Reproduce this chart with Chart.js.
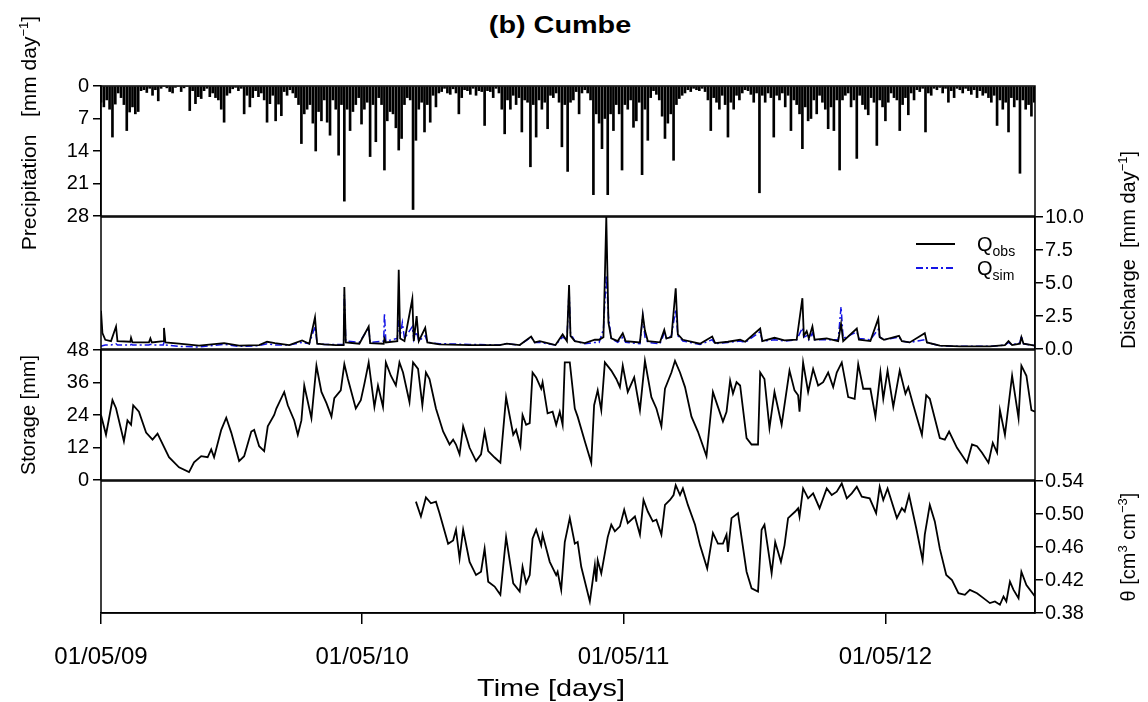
<!DOCTYPE html>
<html><head><meta charset="utf-8">
<script src="https://cdn.jsdelivr.net/npm/chart.js@4.4.0/dist/chart.umd.min.js"></script>
<style>
html,body{margin:0;padding:0;background:#fff;}
#wrap{position:relative;width:1148px;height:702px;overflow:hidden;font-family:"Liberation Sans",Arial,sans-serif;color:#000;}
canvas{position:absolute;left:0;}
.lbl{position:absolute;white-space:nowrap;font-size:20px;line-height:1;}
.ctr{transform:translate(-50%,-50%);}
.ctrs{transform:translate(-50%,-50%) scaleX(1.2);}
.rot{transform:translate(-50%,-50%) rotate(-90deg);}
.sp{font-size:13px;position:relative;top:-8px;}
.sb{font-size:14px;position:relative;top:5px;}
</style></head><body>
<div id="wrap">
<canvas id="c0"></canvas><canvas id="c1"></canvas><canvas id="c2"></canvas><canvas id="c3"></canvas>
<div class="lbl ctrs" style="left:560px;top:25px;font-weight:bold;font-size:24px;">(b) Cumbe</div>
<div class="lbl rot" style="left:28px;top:133px;font-size:21px;">Precipitation&nbsp;&nbsp; [mm day<span class="sp">−1</span>]</div>
<div class="lbl rot" style="left:28px;top:415px;">Storage [mm]</div>
<div class="lbl rot" style="left:1128px;top:250px;">Discharge&nbsp; [mm day<span class="sp">−1</span>]</div>
<div class="lbl rot" style="left:1128px;top:547px;">θ [cm<span class="sp">3</span> cm<span class="sp">−3</span>]</div>
<div class="lbl ctrs" style="left:551px;top:688px;font-size:24px;">Time [days]</div>
<div class="lbl" style="left:977px;top:234px;">Q<span class="sb">obs</span></div>
<div class="lbl" style="left:977px;top:258px;">Q<span class="sb">sim</span></div>
</div>
<script>
// ---------------- data (x = days since 01/05/09) ----------------
const xTickDays = [0, 365, 730, 1096];
const xTickLabels = ['01/05/09', '01/05/10', '01/05/11', '01/05/12'];
const xMaxDay = 1305;

const precipTicks = [0, 7, 14, 21, 28];
const dischargeTicks = [0, 2.5, 5, 7.5, 10];
const storageTicks = [0, 12, 24, 36, 48];
const thetaTicks = [0.38, 0.42, 0.46, 0.50, 0.54];

// precipitation, one value every 4 days
const precipStep = 4;
const precipValues = [
3.5,4.5,3,5,11,3.9,1.5,2.5,4,9.6,5.6,4.5,6,5.5,1,0.8,1.4,0.5,2,0.8,
3.2,0.5,0,0.4,1.2,1.5,0.3,0,1.2,0.4,0,5.3,1,3.8,2.3,2.7,1,0.5,2.3,1.5,
2.5,3,5,7.8,2,1.5,0.6,0.3,1,0.5,6,2,4.5,2.5,1,2.3,1.5,3,7.8,3.8,
2,7.5,3.9,6.4,1.2,2,0.8,1.5,2.5,4,12.4,6,5,4,8,14,5.5,7.5,3,7.8,
10.6,3,5,14.9,4,24.8,5,9.6,5.5,4,2.5,8.2,5,3.5,15.2,4,12,2.5,4,18.1,
7.5,5.5,6,9,13.8,11.3,4,2.5,3,26.6,11.7,5,3.5,9.9,4,7.8,2,4.5,1.5,1.2,
0.5,1.5,1.8,0.6,1.5,6,2.5,0.8,1,1.8,0.5,2,1,1.2,8.5,1,1.2,2.5,0.5,1.5,
5,10.3,3,5,2,4,2.5,9.9,3,3.5,17.4,4,11,3,5,3.5,9.2,2,2.5,1.5,
3.5,13.1,4,18.4,3.5,3,1.2,6,1.5,0.8,1.5,3,23.4,6,8,13.5,7,23.4,6,9.6,
4,6,18.1,4,5,3,8.9,7.5,3.5,19.1,5,11.7,2.5,1,1.8,3,6.5,11.3,8,6,
16,4,2.7,2,1.5,0.8,1.2,0.5,0.8,1,0.5,1.2,3,9.6,2.5,3.5,5,2,4,11,
3.5,5,2,3,1.5,0.8,1,1.8,3.5,1.5,23,2,3.5,1.5,2.5,11,2,3,1.5,4.5,
2,9.6,3,4,6,13.5,4.5,7.5,7,3,6,2,3.5,5,9.2,4.5,9.6,3,18.1,3,
2,1.5,4.5,3,15.6,2,4,5,6.2,2.5,3.5,12.8,3,4.5,7.5,3.5,1.5,2.5,3,9.6,
4,2.5,6.2,1.5,3,0.8,1.2,0.5,9.9,1.5,2,0.5,0.8,0.3,1.5,0.5,3.5,1,2.5,0.5,
0.8,1.5,0.5,1,1.8,0.8,2.5,1,2,1.5,2.5,3.5,2,8.5,3,5,3.5,9.9,2.5,4.5,
3,18.8,3,5,4,6.5,3.5];

// discharge: [day, Qobs, Qsim]
const discharge = [
[0,2.9,0.2],[2,1.2,0.25],[6,0.7,0.3],[14,0.6,0.3],[21,1.7,0.4],[23,0.6,0.3],[41,0.55,0.3],[42,0.85,0.35],[44,0.5,0.3],
[67,0.5,0.3],[69,0.8,0.35],[71,0.5,0.3],[87,0.6,0.3],[88,1.6,0.5],[90,0.5,0.3],[109,0.4,0.2],[137,0.25,0.15],[172,0.45,0.35],
[193,0.25,0.2],[221,0.3,0.25],[232,0.55,0.4],[243,0.45,0.3],[263,0.3,0.3],[281,0.65,0.5],[291,0.4,0.4],[299,2.4,1.7],[302,0.4,0.4],
[312,0.35,0.35],[328,0.3,0.35],[339,0.3,0.35],[340,4.7,4.1],[342,0.5,0.6],[361,0.4,0.5],[374,1.7,1.6],[376,0.45,0.5],[395,0.4,0.6],
[396,0.8,2.7],[398,0.5,0.6],[414,0.6,0.8],[416,6.0,2.2],[418,0.8,1.0],[421,0.7,2.0],[424,0.6,0.8],[435,3.8,1.7],[437,0.6,0.7],
[441,2.5,1.3],[444,0.6,0.6],[453,1.6,1.0],[456,0.5,0.5],[473,0.35,0.4],[515,0.3,0.35],[557,0.3,0.3],[567,0.4,0.4],[585,0.3,0.3],
[601,0.95,0.9],[606,0.5,0.5],[613,0.6,0.5],[624,0.45,0.4],[635,0.3,0.3],[645,1.1,0.9],[651,0.6,0.7],[654,4.85,4.5],[656,1.0,1.2],
[662,0.6,0.6],[676,0.45,0.4],[690,0.7,0.5],[696,0.7,0.5],[702,0.9,1.5],[706,10.0,5.6],[709,2.0,2.5],[713,0.8,0.8],[722,0.6,0.5],
[729,1.2,0.9],[733,0.6,0.5],[753,0.5,0.4],[757,2.6,2.5],[760,1.4,0.9],[764,0.6,0.5],[781,0.5,0.4],[787,1.45,1.2],[790,0.8,0.8],
[797,0.9,1.0],[803,4.6,3.0],[806,1.1,1.0],[813,0.7,0.6],[837,0.4,0.35],[854,0.95,0.7],[858,0.45,0.4],[876,0.55,0.5],[893,0.7,0.6],
[900,0.55,0.5],[921,1.55,1.3],[924,0.6,0.6],[941,0.85,0.7],[955,0.65,0.6],[972,0.7,0.7],[980,3.85,1.6],[982,1.0,0.9],[986,1.35,1.0],
[989,0.8,0.7],[994,1.7,1.2],[997,0.7,0.7],[1014,0.8,0.7],[1030,0.6,0.7],[1034,1.9,3.2],[1037,0.6,0.8],[1056,1.55,1.3],[1059,0.7,0.8],
[1075,0.6,0.7],[1086,2.3,1.5],[1088,0.9,0.9],[1094,0.7,0.7],[1115,1.0,0.9],[1119,0.6,0.6],[1130,0.5,0.5],[1151,1.2,0.7],[1154,0.5,0.5],
[1172,0.25,0.25],[1200,0.2,0.2],[1242,0.2,0.2],[1263,0.3,0.3],[1268,0.6,0.5],[1273,0.3,0.3],[1284,0.4,0.5],[1286,0.9,1.0],[1289,0.4,0.4],
[1305,0.25,0.25]];

// storage: [day, mm]
const storage = [
[0,24],[7,16.7],[16,29.5],[21,26.5],[32,14.3],[37,22],[42,20.4],[45,27.6],[53,25.2],[63,17.5],[72,14.9],[79,17.1],[95,8.4],[109,4.7],
[123,2.9],[130,6.5],[140,8.8],[149,8.4],[154,11.3],[158,8.4],[168,18.5],[175,23],[182,17.5],[193,7],[200,8.8],[210,17.9],[214,18.5],
[221,12.5],[228,10.7],[233,19.8],[242,24],[245,26.4],[256,32.5],[261,27.6],[270,22],[275,16.7],[280,22],[284,34.9],[294,22.8],[301,42.2],
[308,32.5],[315,28.4],[322,23.4],[326,30.2],[335,33.1],[340,42.8],[345,37.3],[356,26.4],[363,29.5],[368,35.5],[374,43.4],[382,27],
[387,34.9],[394,27],[398,43.4],[405,38.5],[412,34.9],[417,43.4],[422,39.7],[431,28.8],[436,43.4],[443,41],[449,27.6],[454,39.7],
[459,37.3],[468,26.4],[478,17.9],[487,13.1],[492,14.9],[496,13.1],[501,9.5],[506,19.8],[515,11.9],[524,7],[531,9.5],[536,17.9],
[541,10.7],[550,8.3],[558,6.4],[566,30.6],[576,16.7],[580,18.5],[586,12.5],[589,24],[594,20.4],[599,21],[603,39.7],[608,37.9],
[615,33.7],[617,36.1],[624,24.6],[631,25.2],[636,20.4],[641,25.2],[645,20.4],[648,43.4],[655,43.4],[662,26.4],[666,23.4],[676,14.3],
[685,6.4],[689,27.6],[694,33.1],[699,25.8],[704,43.4],[713,40.4],[720,37.3],[725,34.3],[729,42.2],[736,32.5],[745,37.9],[753,25.8],
[760,44],[769,30.6],[776,26.4],[783,19.8],[788,33.7],[797,39.7],[802,44],[809,39.7],[816,34.3],[825,23.4],[834,17.9],[846,8.8],
[855,32.5],[862,27],[869,21.6],[874,25.2],[879,36.7],[883,31.9],[888,36.1],[893,34.9],[902,15.5],[909,13.1],[918,13.1],[921,39.7],
[927,37.3],[934,19.2],[941,32.5],[951,20.4],[962,40.4],[969,33.1],[974,31.3],[976,25.2],[981,43.4],[988,32.5],[995,41],[1002,34.9],
[1009,36.1],[1016,39.7],[1023,34.3],[1028,39.7],[1035,43.4],[1044,30.6],[1053,30],[1058,42.8],[1065,33.7],[1075,33.7],[1082,23.4],
[1089,39.7],[1093,30],[1099,40.4],[1107,27],[1116,40.4],[1124,31.9],[1128,34.3],[1135,27.6],[1147,16.7],[1153,31.3],[1158,30],
[1172,15.5],[1179,14.9],[1185,17.9],[1196,11.9],[1210,6.4],[1217,13.1],[1224,12.5],[1231,10.1],[1240,6.4],[1246,13.7],[1252,10.1],
[1256,25.8],[1263,16.7],[1273,38.5],[1282,22.8],[1286,42.2],[1293,38.5],[1300,25.8],[1305,25.2]];

// soil moisture theta: [day, cm3/cm3]
const theta = [
[440,0.515],[447,0.497],[454,0.520],[461,0.513],[468,0.515],[473,0.501],[485,0.464],[492,0.468],[496,0.481],[501,0.446],[506,0.481],
[515,0.442],[524,0.426],[531,0.430],[536,0.458],[541,0.418],[550,0.412],[558,0.402],[566,0.472],[576,0.416],[585,0.406],[589,0.436],
[594,0.416],[599,0.426],[603,0.470],[608,0.481],[615,0.462],[617,0.475],[627,0.442],[636,0.426],[638,0.430],[643,0.408],[648,0.466],
[655,0.495],[662,0.464],[666,0.466],[671,0.436],[683,0.394],[690,0.438],[692,0.418],[694,0.444],[699,0.428],[708,0.472],[713,0.487],
[718,0.479],[725,0.485],[731,0.505],[736,0.489],[746,0.497],[753,0.475],[758,0.517],[764,0.503],[771,0.491],[776,0.493],[783,0.475],
[788,0.511],[795,0.517],[800,0.523],[803,0.535],[809,0.523],[813,0.531],[820,0.511],[830,0.487],[837,0.462],[847,0.434],[855,0.477],
[862,0.464],[869,0.464],[874,0.475],[876,0.454],[881,0.495],[890,0.501],[902,0.430],[909,0.410],[918,0.406],[923,0.481],[927,0.487],
[937,0.428],[942,0.466],[950,0.442],[955,0.462],[960,0.495],[970,0.503],[974,0.507],[976,0.497],[981,0.531],[988,0.519],[995,0.525],
[1004,0.507],[1014,0.531],[1021,0.523],[1028,0.527],[1035,0.537],[1042,0.519],[1049,0.525],[1056,0.533],[1063,0.521],[1074,0.519],
[1083,0.501],[1088,0.533],[1093,0.517],[1099,0.531],[1112,0.495],[1119,0.507],[1123,0.503],[1129,0.523],[1139,0.483],[1148,0.444],
[1151,0.475],[1158,0.511],[1165,0.491],[1172,0.458],[1181,0.426],[1189,0.420],[1198,0.404],[1207,0.402],[1214,0.408],[1224,0.404],
[1233,0.398],[1242,0.392],[1249,0.394],[1256,0.390],[1261,0.400],[1265,0.394],[1270,0.418],[1275,0.408],[1282,0.398],[1286,0.430],
[1293,0.414],[1305,0.400]];

// ---------------- layout ----------------
const W = 1148, H = 702;
const L = 101, R = 1035;
const PT = [85, 217, 349, 481, 613];
const PAD = 15;
const FONT = '"Liberation Sans", Arial, sans-serif';
const BLUE = '#1414e6';
Chart.defaults.font.family = FONT;
Chart.defaults.font.size = 20;
Chart.defaults.color = '#000';

const frame = {id: 'frame', afterDatasetsDraw(c) {
  const a = c.chartArea, x = c.ctx;
  x.save(); x.strokeStyle = '#000'; x.lineWidth = 1.5;
  x.strokeRect(a.left, a.top, a.right - a.left, a.bottom - a.top);
  x.restore();
}};

function yAxis(pos, ticks, fmt, extra) {
  return Object.assign({
    type: 'linear', position: pos, min: ticks[0], max: ticks[ticks.length - 1],
    afterFit: s => { s.width = pos === 'left' ? L : W - R; },
    afterBuildTicks: s => { s.ticks = ticks.map(v => ({value: v})); },
    grid: {drawOnChartArea: false, drawTicks: true, tickLength: 8, color: '#000', lineWidth: 1.5},
    border: {display: true, color: '#000', width: 1.5},
    ticks: {color: '#000', font: {family: FONT, size: 20}, padding: pos === 'left' ? 4 : 2,
            autoSkip: false, callback: v => fmt(v)}
  }, extra || {});
}
function xHidden() {
  return {type: 'linear', min: 0, max: xMaxDay, display: false, offset: false, grid: {offset: false}};
}

function makeCanvas(i) {
  const cv = document.getElementById('c' + i);
  const top = PT[i] - PAD;
  const h = (i < 3) ? (PT[i + 1] - PT[i] + 2 * PAD) : (H - top);
  cv.width = W; cv.height = h;
  cv.style.top = top + 'px'; cv.style.width = W + 'px'; cv.style.height = h + 'px';
  return cv;
}
const common = {responsive: false, animation: false, devicePixelRatio: 1,
  plugins: {legend: {display: false}, tooltip: {enabled: false}}, events: []};

// Panel 0: precipitation
new Chart(makeCanvas(0), {
  type: 'bar',
  data: {datasets: [{
    data: precipValues.map((v, i) => ({x: i * precipStep, y: v})),
    backgroundColor: '#000', borderWidth: 0, barThickness: 2
  }]},
  options: Object.assign({}, common, {
    layout: {padding: {top: PAD, bottom: PAD, left: 0, right: W - R}},
    scales: {
      x: xHidden(),
      y: yAxis('left', precipTicks, v => String(v), {reverse: true})
    }
  }),
  plugins: [frame]
});

// Panel 1: discharge
const legendLines = {id: 'legendLines', afterDraw(c) {
  const x = c.ctx, off = PT[1] - PAD;
  x.save();
  x.lineWidth = 2; x.strokeStyle = '#000';
  x.beginPath(); x.moveTo(916, 244 - off); x.lineTo(955, 244 - off); x.stroke();
  x.strokeStyle = BLUE; x.setLineDash([7, 3, 2, 3]);
  x.beginPath(); x.moveTo(916, 268 - off); x.lineTo(955, 268 - off); x.stroke();
  x.restore();
}};
new Chart(makeCanvas(1), {
  type: 'line',
  data: {datasets: [
    {data: discharge.map(d => ({x: d[0], y: d[1]})), borderColor: '#000', borderWidth: 1.8,
     pointRadius: 0, tension: 0, clip: 0},
    {data: discharge.map(d => ({x: d[0], y: d[2]})), borderColor: BLUE, borderWidth: 1.5,
     borderDash: [7, 3, 2, 3], pointRadius: 0, tension: 0, clip: 0}
  ]},
  options: Object.assign({}, common, {
    layout: {padding: {top: PAD, bottom: PAD, left: L, right: 0}},
    scales: {
      x: xHidden(),
      y: yAxis('right', dischargeTicks, v => v.toFixed(1))
    }
  }),
  plugins: [frame, legendLines]
});

// Panel 2: storage
new Chart(makeCanvas(2), {
  type: 'line',
  data: {datasets: [
    {data: storage.map(d => ({x: d[0], y: d[1]})), borderColor: '#000', borderWidth: 1.8,
     pointRadius: 0, tension: 0}
  ]},
  options: Object.assign({}, common, {
    layout: {padding: {top: PAD, bottom: PAD, left: 0, right: W - R}},
    scales: {
      x: xHidden(),
      y: yAxis('left', storageTicks, v => String(v))
    }
  }),
  plugins: [frame]
});

// Panel 3: theta + time axis
new Chart(makeCanvas(3), {
  type: 'line',
  data: {datasets: [
    {data: theta.map(d => ({x: d[0], y: d[1]})), borderColor: '#000', borderWidth: 1.8,
     pointRadius: 0, tension: 0}
  ]},
  options: Object.assign({}, common, {
    layout: {padding: {top: PAD, bottom: 0, left: L, right: 0}},
    scales: {
      x: {type: 'linear', position: 'bottom', min: 0, max: xMaxDay,
          afterBuildTicks: s => { s.ticks = xTickDays.map(v => ({value: v})); },
          afterFit: s => { s.height = H - PT[4]; },
          grid: {drawOnChartArea: false, drawTicks: true, tickLength: 11, color: '#000', lineWidth: 1.5},
          border: {display: true, color: '#000', width: 1.5},
          ticks: {color: '#000', font: {family: FONT, size: 24}, padding: 19, maxRotation: 0,
                  autoSkip: false, callback: v => xTickLabels[xTickDays.indexOf(v)]}},
      y: yAxis('right', thetaTicks, v => v.toFixed(2))
    }
  }),
  plugins: [frame]
});
</script>
</body></html>
